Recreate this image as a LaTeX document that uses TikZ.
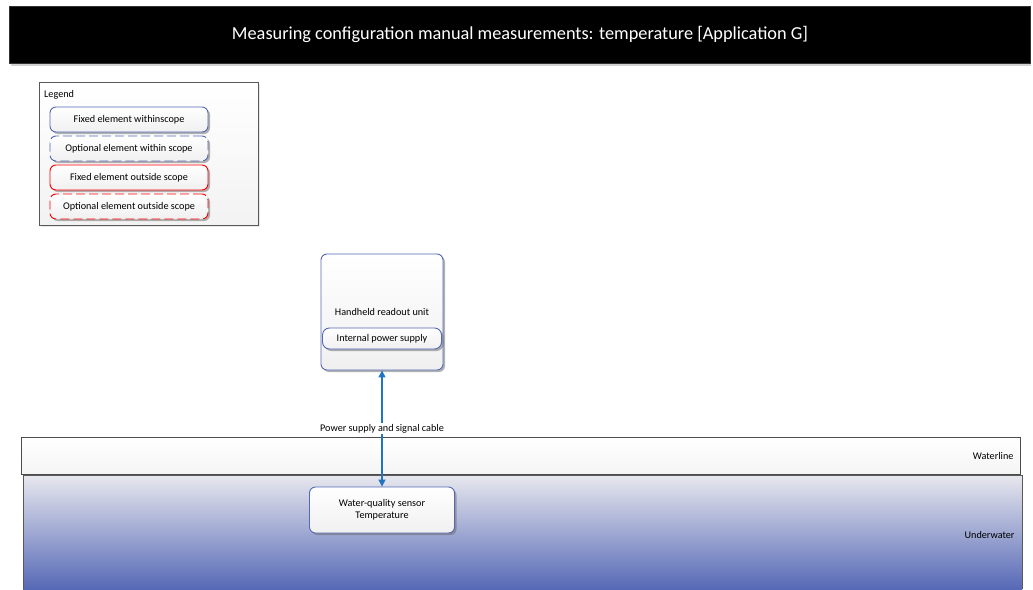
\documentclass[tikz,border=0pt]{standalone}
\usepackage{fontspec}
\setmainfont{Carlito}
\usetikzlibrary{arrows.meta,shadows}
\definecolor{scopeblue}{HTML}{5468B4}
\definecolor{cablecol}{HTML}{1F74C4}
\definecolor{deepwater}{HTML}{5669B6}
\definecolor{shallow}{HTML}{E8E8EE}
\tikzset{
  elem/.style={rounded corners=6pt, line width=0.9pt, top color=white, bottom color=gray!12,
    drop shadow={shadow xshift=2pt, shadow yshift=-2pt, fill=gray!80!black},
    font=\fontsize{10.2}{12}\selectfont, align=center, inner sep=0pt},
  infix/.style={elem, draw=scopeblue},
  optin/.style={elem, draw=scopeblue, dash pattern=on 9pt off 4pt},
  fixout/.style={elem, draw=red},
  optout/.style={elem, draw=red, dash pattern=on 9pt off 4pt},
  lane/.style={draw=gray!60!black, line width=0.8pt},
  small/.style={font=\fontsize{10.2}{12}\selectfont},
}
\begin{document}
\begin{tikzpicture}[x=1pt,y=-1pt]
\useasboundingbox (0,0) rectangle (1033,589);

% title bar
\fill[gray!35] (11,64) rectangle (1031,66);
\node[draw=gray!40!black, fill=black, line width=0.8pt, minimum width=1021pt, minimum height=57pt,
  text=white, font=\fontsize{18.3}{21}\selectfont, inner sep=0pt] (title) at (520,34.5)
  {Measuring configuration manual measurements: temperature [Application G]};

% legend
\node[draw=gray!70!black, line width=0.6pt, top color=white, bottom color=gray!10,
  drop shadow={shadow xshift=1.5pt, shadow yshift=-1.5pt, fill=gray!35},
  minimum width=219pt, minimum height=143pt, inner sep=0pt] (legend) at (148.5,154) {};
\node[small, anchor=north west, inner sep=0pt] (legendtitle) at (44,90.5) {Legend};
\node[infix, minimum width=158pt, minimum height=25pt] (lg1) at (129,119.5) {Fixed element withinscope};
\node[optin, minimum width=158pt, minimum height=25pt] (lg2) at (129,148.5) {Optional element within scope};
\node[fixout, minimum width=158pt, minimum height=25pt] (lg3) at (129,177.5) {Fixed element outside scope};
\node[optout, minimum width=158pt, minimum height=25pt] (lg4) at (129,206.5) {Optional element outside scope};

% swim lanes
\shade[top color=shallow, bottom color=deepwater] (23,475) rectangle (1022,589);
\draw[gray!70!black, line width=0.8pt] (23,589) -- (23,475) -- (1022,475) -- (1022,589);
\node[lane, top color=white, bottom color=gray!8, minimum width=999pt, minimum height=37pt,
  inner sep=0pt] (waterline) at (521,455.5) {};
\node[small, anchor=east] (wlabel) at (1017,455.5) {Waterline};
\node[small, anchor=east] (uwlabel) at (1018,535) {Underwater};

% handheld unit with its internal supply
\node[infix, minimum width=122pt, minimum height=116pt] (readout) at (382,312) {};
\node[small] (readoutlabel) at (382,312) {Handheld readout unit};
\node[infix, minimum width=119pt, minimum height=21pt, rounded corners=7pt] (power) at (382,338.5) {Internal power supply};

% sensor
\node[infix, minimum width=145pt, minimum height=46pt] (sensor) at (382,510)
  {Water-quality sensor\\Temperature};

% cable
\draw[cablecol, line width=1.3pt, {Triangle[length=7pt,width=7pt]}-{Triangle[length=7pt,width=7pt]}]
  (readout.south) -- (sensor.north)
  node[pos=0.5, small, text=black, fill=white, inner sep=1pt] (cablelabel) {Power supply and signal cable};
\end{tikzpicture}
\end{document}
